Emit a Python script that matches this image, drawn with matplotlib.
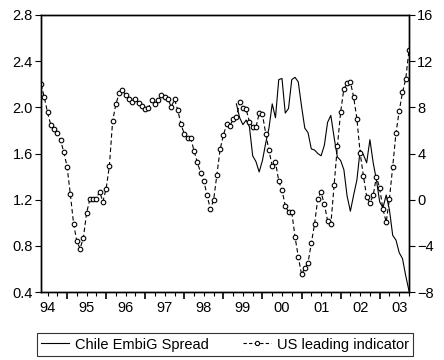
import numpy as np
import matplotlib.pyplot as plt
from matplotlib.lines import Line2D
import matplotlib.transforms as mtransforms

plt.rcParams['font.family'] = ['Liberation Sans', 'DejaVu Sans']
plt.rcParams['font.size'] = 10.5

# monthly data, May 1994 .. Oct 2003
start_year = 1994 + 4 / 12

# US leading indicator (right axis)
us_leading = [10.0, 8.9, 7.56, 6.48, 6.13, 5.79, 5.13, 4.14, 2.87, 0.49,
              -2.07, -3.61, -4.24, -3.32, -1.15, 0.03, 0.1, 0.1, 0.7, -0.17,
              0.96, 2.92, 6.83, 8.28, 9.21, 9.47, 9.06, 8.71, 8.42, 8.74,
              8.34, 8.1, 7.82, 7.96, 8.65, 8.3, 8.62, 9.03, 8.88, 8.71,
              8.04, 8.69, 7.76, 6.52, 5.7, 5.3, 5.3, 4.23, 3.24, 2.35,
              1.62, 0.38, -0.83, -0.05, 2.14, 4.35, 5.59, 6.52, 6.41, 6.95,
              7.18, 8.42, 7.9, 7.82, 6.74, 6.28, 6.28, 7.47, 7.38, 5.73,
              4.26, 2.92, 3.27, 1.62, 0.82, -0.51, -1.07, -1.07, -3.22, -4.94,
              -6.47, -5.93, -5.46, -3.78, -2.11, 0.1, 0.64, -0.4, -1.81, -2.14,
              1.25, 4.61, 7.56, 9.61, 10.07, 10.21, 8.88, 7.02, 4.03, 2.06,
              0.27, -0.31, 0.38, 2.0, 0.99, -0.83, -1.94, 0.1, 2.87, 5.76,
              7.7, 9.29, 10.47, 12.96]

# Chile EMBI Global spread (left axis), from May 1999
embi_start = 60
chile_embi = [2.03, 1.91, 1.85, 1.89, 1.83, 1.58, 1.53, 1.44, 1.54, 1.69,
              1.82, 2.03, 1.91, 2.24, 2.25, 1.95, 1.99, 2.24, 2.26, 2.22,
              2.01, 1.82, 1.78, 1.64, 1.63, 1.60, 1.58, 1.67, 1.87, 1.93,
              1.74, 1.57, 1.54, 1.46, 1.23, 1.10, 1.24, 1.37, 1.63, 1.59,
              1.52, 1.72, 1.52, 1.37, 1.18, 1.13, 1.24, 1.11, 0.89, 0.85,
              0.74, 0.69, 0.54, 0.41]

years = ['94', '95', '96', '97', '98', '99', '00', '01', '02', '03']

t_us = start_year + np.arange(len(us_leading)) / 12
t_embi = start_year + (embi_start + np.arange(len(chile_embi))) / 12

fig = plt.figure(figsize=(4.44, 3.6), dpi=100)
ax = fig.add_axes([41 / 444, 1 - 292 / 360, 368 / 444, 277 / 360])
ax2 = ax.twinx()

ax.plot(t_embi, chile_embi, color='black', lw=0.8)
ax2.plot(t_us, us_leading, color='black', lw=0.8, ls=(0, (4, 2.5)),
         marker='o', ms=3.3, mfc='white', mec='black', mew=0.8)

ax.set_xlim(t_us[0], t_us[-1])
ax.set_ylim(0.4, 2.8)
ax.set_yticks(np.arange(0.4, 2.81, 0.4))
ax.set_yticklabels([f'{v:.1f}' for v in np.arange(0.4, 2.81, 0.4)])
ax2.set_ylim(-8, 16)
ax2.set_yticks(np.arange(-8, 17, 4))

ax.set_xticks(np.arange(1995, 2004))
ax.set_xticklabels([])
ax.set_xticks(np.arange(1994.5, 2003.8, 0.25), minor=True)
ax.tick_params(axis='x', which='major', length=5, width=1.2, direction='out')
ax.tick_params(axis='x', which='minor', length=3, width=0.8, direction='out')
ax.tick_params(axis='y', length=4, width=0.8, pad=2)
ax2.tick_params(axis='y', length=4, width=0.8, pad=2)

trans = mtransforms.blended_transform_factory(ax.transData, ax.transAxes)
for i, lab in enumerate(years):
    ax.text(1994.5 + i, -0.033, lab, transform=trans, ha='center', va='top')

for a in (ax, ax2):
    for s in a.spines.values():
        s.set_linewidth(1.0)

handles = [Line2D([], [], color='black', lw=0.8),
           Line2D([], [], color='black', lw=0.8, ls=(0, (3, 2)),
                  marker='o', ms=3, mfc='white', mec='black', mew=0.8)]
leg = fig.legend(handles, ['Chile EmbiG Spread', 'US leading indicator'],
                 loc='center', bbox_to_anchor=(225 / 444, 1 - 344.5 / 360),
                 ncol=2, frameon=True, fancybox=False,
                 edgecolor='black', handlelength=1.9, handletextpad=0.4,
                 columnspacing=2.4, borderaxespad=0, fontsize=10.5,
                 borderpad=0.3)
leg.get_frame().set_linewidth(0.8)

fig.savefig('out.png', dpi=100)
